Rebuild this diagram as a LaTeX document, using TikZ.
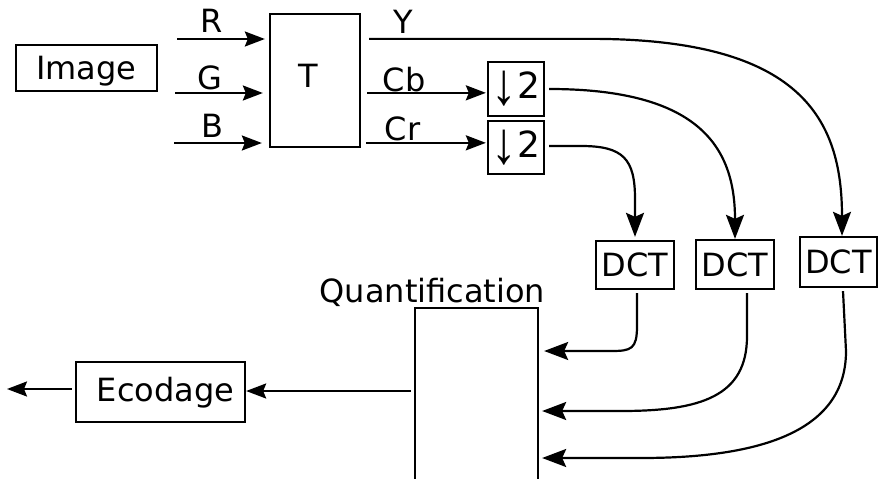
\documentclass[tikz,border=0pt]{standalone}
\usepackage{fontspec}
\setmainfont{DejaVu Sans}
\newfontfamily\arrfont{Liberation Sans}
\usetikzlibrary{arrows.meta,calc}
\newcommand\dnarr{\raisebox{-6pt}{\scalebox{1.5}[1.75]{\arrfont\fontsize{34}{40}\selectfont ↓}}}
\begin{document}
\begin{tikzpicture}[x=1pt,y=-1pt,
  every node/.style={font=\fontsize{32}{38}\selectfont, inner sep=0pt},
  box/.style={draw, line width=2.3pt, text height=23.3pt, text depth=0pt, align=center},
  lbl/.style={anchor=base},
  conn/.style={line width=2.2pt, -{Stealth[length=20pt,width=15pt,inset=3pt]}},
  connbig/.style={line width=2.2pt, -{Stealth[length=24pt,width=18pt,inset=4pt]}},
  plain/.style={line width=2.2pt}]
\useasboundingbox (0,0) rectangle (878,479);
% boxes
\node[box, minimum width=141pt, minimum height=46pt] (img) at (86.5,68) {Image};
\node[box, minimum width=90pt, minimum height=133pt] (T) at (315,80.5) {};
\node[lbl] (Tl) at (308,87) {T};
\node[box, minimum width=56pt, minimum height=54pt, text height=18pt, font=\fontsize{36}{42}\selectfont] (d1) at (516,89) {\dnarr2};
\node[box, minimum width=56pt, minimum height=53pt, text height=19pt, font=\fontsize{36}{42}\selectfont] (d2) at (516,147.5) {\dnarr2};
\node[box, minimum width=78pt, minimum height=48pt] (dct1) at (635,265) {DCT};
\node[box, minimum width=78pt, minimum height=49pt] (dct2) at (735,264.5) {DCT};
\node[box, minimum width=77pt, minimum height=50pt] (dct3) at (838.5,262) {DCT};
\node[box, minimum width=123pt, minimum height=182pt] (Q) at (476.5,399) {};
\node[lbl] (Ql) at (432.5,302) {Quantification};
\node[box, minimum width=169pt, minimum height=60pt] (ecod) at (160.5,392) {};
\node[lbl] (ecl) at (165.5,401) {Ecodage};
% labels
\node[lbl] (R) at (212,32) {R};
\node[lbl] (G) at (210,89) {G};
\node[lbl] (B) at (212,137) {B};
\node[lbl] (Y) at (403,33) {Y};
\node[lbl] (Cb) at (404,91) {Cb};
\node[lbl] (Cr) at (402.5,140) {Cr};
% inputs
\coordinate (rs) at (177,39);
\coordinate (gs) at (175,93);
\coordinate (bs) at (174,143);
\draw[conn, shorten >=4pt] (rs) -- (rs -| T.west);
\draw[conn, shorten >=6pt] (gs) -- (gs -| T.west);
\draw[conn, shorten >=7pt] (bs) -- (bs -| T.west);
% outputs of T
\coordinate (ys) at ($(T.north east)+(8,26)$);
\coordinate (cbs) at ($(T.north east)+(6,80)$);
\coordinate (crs) at ($(T.north east)+(5,130)$);
\draw[conn, shorten >=1pt] (cbs) -- (cbs -| d1.west);
\draw[conn, shorten >=1pt] (crs) -- (crs -| d2.west);
\draw[connbig] (ys) -- ++(222,0) .. controls +(210,0) and +(0,-117) .. ($(dct3.north)+(3.5,0)$);
\draw[connbig] ($(d1.east)+(4,0)$) .. controls +(152,0) and +(0,-90) .. (dct2.north);
\draw[connbig] ($(d2.east)+(4,-1.5)$) -- ++(32,0) .. controls +(42,0) and +(0,-40) .. ($(dct1.north)+(0,-41)$) -- ($(dct1.north)+(0,-3)$);
% DCT to quantification
\draw[connbig] ($(dct1.south)+(2,3)$) -- ++(0,33) .. controls +(0,23) and +(20,0) .. ($(Q.east)+(72,-48)$) -- ($(Q.east)+(5,-48)$);
\draw[connbig] ($(dct2.south)+(12,3)$) -- ++(0,43) .. controls +(0,60) and +(80,0) .. ($(Q.east)+(82,12)$) -- ($(Q.east)+(3,12)$);
\draw[connbig] ($(dct3.south)+(4.5,3)$) -- ++(3,60) .. controls +(0,80) and +(120,0) .. ($(Q.east)+(102,59)$) -- ($(Q.east)+(3,59)$);
% quantification to encoding
\coordinate (qs) at ($(Q.west)+(-3,-8)$);
\draw[conn] (qs) -- (qs -| ecod.east);
\coordinate (out) at (7,389);
\draw[conn] ($(ecod.west)+(-3,-3)$) -- (out);
\end{tikzpicture}
\end{document}
